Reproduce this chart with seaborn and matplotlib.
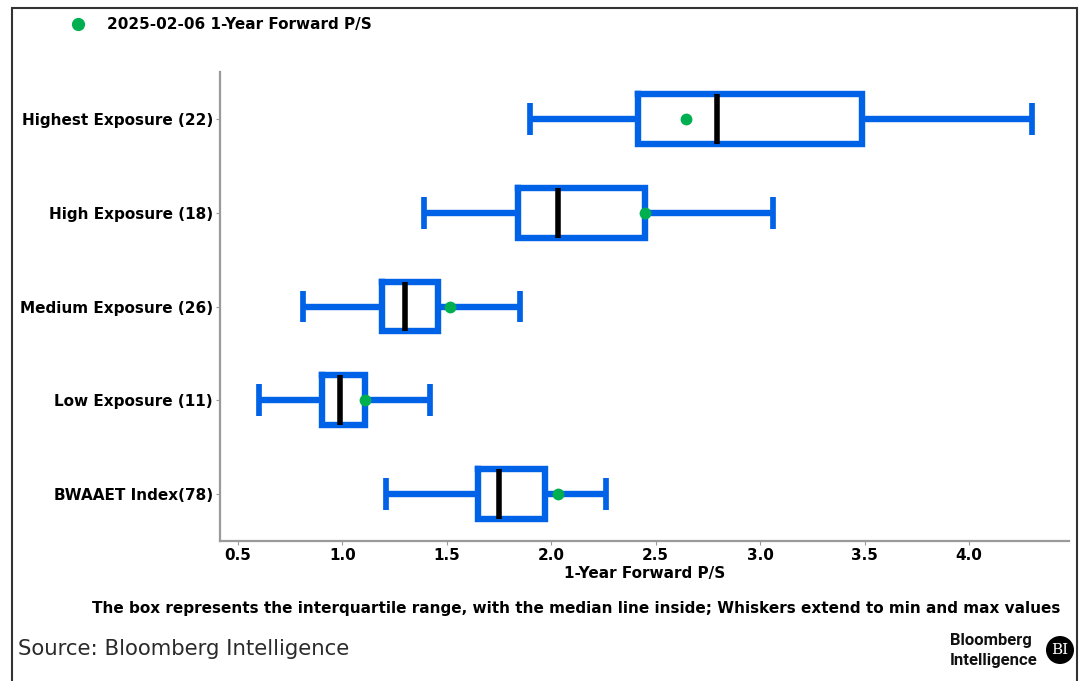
import matplotlib
matplotlib.use("Agg")
import matplotlib.pyplot as plt
from matplotlib.lines import Line2D
from matplotlib.patches import Rectangle, Circle
import numpy as np
import pandas as pd
import seaborn as sns

# Groups and summary statistics of 1-year forward P/S
groups = [
    "Highest Exposure (22)",
    "High Exposure (18)",
    "Medium Exposure (26)",
    "Low Exposure (11)",
    "BWAAET Index(78)",
]
mins = [1.90, 1.39, 0.81, 0.60, 1.21]
q1s = [2.415, 1.84, 1.19, 0.90, 1.65]
medians = [2.795, 2.03, 1.30, 0.99, 1.75]
q3s = [3.49, 2.45, 1.46, 1.11, 1.97]
maxs = [4.30, 3.06, 1.85, 1.42, 2.26]
current = [2.645, 2.45, 1.515, 1.11, 2.03]
current_date = "2025-02-06"

x_ticks = [0.5, 1.0, 1.5, 2.0, 2.5, 3.0, 3.5, 4.0]

BLUE = "#0062E6"
GREEN = "#00B050"
SPINE = "#9A9A9A"

# Five-number summaries in long form; with whiskers at the 0/100 percentiles
# seaborn reproduces min, quartiles, median and max exactly.
rows = []
for g, a, b, c, d, e in zip(groups, mins, q1s, medians, q3s, maxs):
    for v in (a, b, c, d, e):
        rows.append({"group": g, "ps": v})
stats = pd.DataFrame(rows)
now = pd.DataFrame({"group": groups, "ps": current})

sns.set_theme(style="white")
plt.rcParams["font.family"] = ["DejaVu Sans"]
plt.rcParams["text.color"] = "black"
plt.rcParams["axes.labelcolor"] = "black"

W, H = 1083, 681
fig = plt.figure(figsize=(W / 100, H / 100), dpi=100)
ax = fig.add_axes([220 / W, 1 - 541 / H, (1069 - 220) / W, (541 - 72) / H])

sns.boxplot(
    data=stats, x="ps", y="group", order=groups, orient="h",
    whis=(0, 100), width=0.53, fill=False, color=BLUE, linewidth=4.6,
    boxprops=dict(solid_joinstyle="miter", solid_capstyle="projecting"),
    whiskerprops=dict(solid_capstyle="butt"),
    capprops=dict(solid_capstyle="butt", linewidth=4.1),
    medianprops=dict(color="black", linewidth=4.0, solid_capstyle="butt"),
    capwidths=0.34, ax=ax,
)
sns.stripplot(
    data=now, x="ps", y="group", order=groups, orient="h",
    jitter=False, color=GREEN, size=8.5, linewidth=0, zorder=5, ax=ax,
)

ax.set_xlim(0.414, 4.479)
ax.set_ylim(4.5, -0.5)
ax.set_xticks(x_ticks)
ax.set_xticklabels([f"{t:.1f}" for t in x_ticks], fontsize=11, fontweight="bold")
for lab in ax.get_yticklabels():
    lab.set_fontsize(11)
    lab.set_fontweight("bold")
ax.set_xlabel("1-Year Forward P/S", fontsize=11, fontweight="bold",
              labelpad=2, color="black")
ax.set_ylabel("")

for side in ("top", "right"):
    ax.spines[side].set_visible(False)
for side in ("left", "bottom"):
    ax.spines[side].set_color(SPINE)
    ax.spines[side].set_linewidth(1.6)
ax.tick_params(axis="both", which="major", length=3, width=0.8, color=SPINE,
               pad=2, labelcolor="black", left=True, bottom=True)

# Legend for the current-value markers
handle = Line2D([], [], marker="o", linestyle="none", markerfacecolor=GREEN,
                markeredgecolor=GREEN, markersize=8.5,
                label=f"{current_date} 1-Year Forward P/S")
fig.legend(handles=[handle], loc="center left",
           bbox_to_anchor=(63 / W, 1 - 25 / H), frameon=False,
           prop=dict(size=11, weight="bold"), handletextpad=0.9,
           borderpad=0, borderaxespad=0, labelcolor="black")

fig.text(1060 / W, 1 - 608 / H,
         "The box represents the interquartile range, with the median line inside; "
         "Whiskers extend to min and max values",
         ha="right", va="center", fontsize=11, fontweight="bold", color="black")
fig.text(18 / W, 1 - 649 / H, "Source: Bloomberg Intelligence",
         ha="left", va="center", fontsize=15.3, color="#2a2a2a")

# Bloomberg Intelligence mark
fig.text(950 / W, 1 - 641 / H, "Bloomberg", ha="left", va="center",
         fontsize=12, fontweight="bold", family="Roboto", color="#111111")
fig.text(950 / W, 1 - 660 / H, "Intelligence", ha="left", va="center",
         fontsize=12, fontweight="bold", family="Roboto", color="#111111")
circ = Circle((1060, H - 650), 14, transform=None, facecolor="black",
              edgecolor="none")
fig.patches.append(circ)
fig.text(1060 / W, 1 - 650 / H, "BI", ha="center", va="center",
         fontsize=11, color="white", family="DejaVu Serif")

# Outer frame
frame = Rectangle((12 / W, -0.05), (1077 - 12) / W, 1.05 - 8 / H,
                  transform=fig.transFigure, fill=False,
                  edgecolor="#333333", linewidth=1.5)
fig.patches.append(frame)

fig.savefig("out.png", dpi=100, facecolor="white")
